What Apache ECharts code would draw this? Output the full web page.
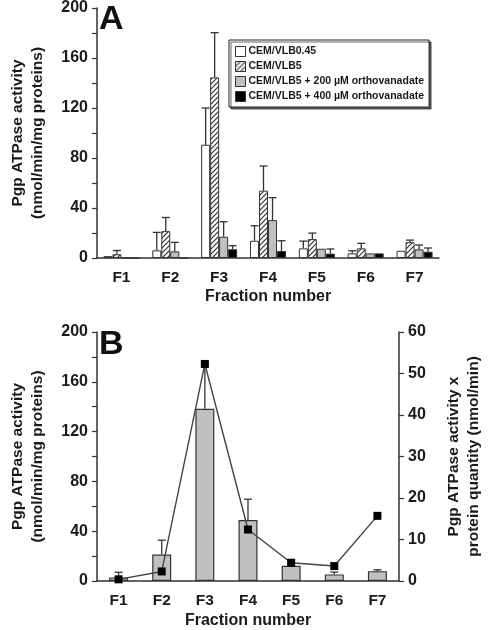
<!DOCTYPE html>
<html><head><meta charset="utf-8">
<script src="https://cdn.jsdelivr.net/npm/echarts@6/dist/echarts.min.js"></script>
<style>html,body{margin:0;padding:0;background:#fff}#c{width:492px;height:630px}</style>
</head><body><div id="c"></div>
<script>
// ---- data ----
const categories = ['F1','F2','F3','F4','F5','F6','F7'];
const seriesNames = ['CEM/VLB0.45','CEM/VLB5','CEM/VLB5 + 200 µM orthovanadate','CEM/VLB5 + 400 µM orthovanadate'];
const vlb045    = [1.5, 6.1, 90.6, 13.8, 7.7, 3.7, 5.8];
const vlb045Err = [null, 20.5, 120, 25.8, 13.5, 5.8, null];
const vlb5      = [3, 21.5, 144.5, 53.9, 15.1, 7.7, 12.7];
const vlb5Err   = [6, 32.4, 180.3, 73.6, 19.9, 11.7, 14.3];
const ov200     = [0, 5.3, 17, 30.3, 7.4, 3.7, 6.9];
const ov200Err  = [null, 12.5, 29, 48.3, null, null, 10.4];
const ov400     = [0, 0, 7, 5.6, 3.5, 3.7, 5];
const ov400Err  = [null, null, 9.8, 13.8, 7.2, null, 8];
const bActivity    = [2.9, 21.2, 138.3, 49, 12.3, 5.3, 7.9];
const bActivityErr = [7, 32.8, 175, 65.7, null, 7.2, 9];
const bTotal       = [0.4, 2.3, 52.3, 12.4, 4.4, 3.6, 15.7];
const leftTicks = {min: 0, max: 200, interval: 40};
const rightTicks = {min: 0, max: 60, interval: 10};

// ---- style ----
const FONT = '"Liberation Sans", Arial, sans-serif';
const TXT = '#1a1a1a';
const AX = '#333';
function hatch() {
  const c = document.createElement('canvas');
  c.width = 5; c.height = 5;
  const g = c.getContext('2d');
  g.fillStyle = '#fff'; g.fillRect(0,0,5,5);
  g.strokeStyle = '#333'; g.lineWidth = 1.2;
  g.beginPath();
  g.moveTo(-1,6); g.lineTo(6,-1);
  g.moveTo(-1,1); g.lineTo(1,-1);
  g.moveTo(4,6); g.lineTo(6,4);
  g.stroke();
  return {image: c, repeat: 'repeat'};
}
const fills = ['#ffffff', hatch(), '#c0c0c0', '#000000'];
const A_BAR_W = 9, B_BAR_W = 19;

function errSeries(vals, errs, offsetIdx, nBars, barW, xi, yi) {
  const data = [];
  errs.forEach((e, i) => { if (e != null) data.push([i, vals[i], e]); });
  return {
    type: 'custom', xAxisIndex: xi, yAxisIndex: yi, z: 5, silent: true,
    encode: {x: 0, y: [1, 2]},
    data: data,
    renderItem: function (params, api) {
      const b = api.coord([api.value(0), api.value(1)]);
      const t = api.coord([api.value(0), api.value(2)]);
      const x = b[0] + (offsetIdx - (nBars - 1) / 2) * barW;
      const st = {stroke: '#333', lineWidth: 1.3};
      return {type: 'group', children: [
        {type: 'line', shape: {x1: x, y1: b[1], x2: x, y2: t[1]}, style: st},
        {type: 'line', shape: {x1: x - 4, y1: t[1], x2: x + 4, y2: t[1]}, style: st}
      ]};
    }
  };
}

const axisLabelStyle = {color: TXT, fontFamily: FONT, fontWeight: 'bold', fontSize: 16};
function valueAxis(gridIndex, ticks, pos, name, gap, minor) {
  return {
    type: 'value', gridIndex: gridIndex, position: pos,
    min: ticks.min, max: ticks.max, interval: ticks.interval,
    name: name, nameLocation: 'middle', nameGap: gap, nameRotate: 90,
    nameTextStyle: {color: TXT, fontFamily: FONT, fontWeight: 'bold', fontSize: 15.5, lineHeight: 20},
    axisLine: {show: true, lineStyle: {color: AX, width: 1.5}},
    axisTick: {show: true, length: 5, lineStyle: {color: AX, width: 1.2}},
    minorTick: {show: minor, splitNumber: 2, length: 5, lineStyle: {color: AX, width: 1.2}},
    splitLine: {show: false},
    axisLabel: Object.assign({margin: 9}, axisLabelStyle)
  };
}
function catAxis(gridIndex, gap) {
  return {
    type: 'category', gridIndex: gridIndex, data: categories,
    name: 'Fraction number', nameLocation: 'middle', nameGap: gap,
    nameTextStyle: {color: TXT, fontFamily: FONT, fontWeight: 'bold', fontSize: 16},
    axisLine: {lineStyle: {color: AX, width: 1.5}},
    axisTick: {length: 4, lineStyle: {color: AX, width: 1.2}},
    axisLabel: Object.assign({margin: 12}, axisLabelStyle, {fontSize: 15.5})
  };
}

const aVals = [vlb045, vlb5, ov200, ov400];
const aErrs = [vlb045Err, vlb5Err, ov200Err, ov400Err];
const series = [];
aVals.forEach((v, k) => {
  series.push({
    type: 'bar', name: seriesNames[k], xAxisIndex: 0, yAxisIndex: 0,
    data: v, barWidth: A_BAR_W, barGap: '0%',
    itemStyle: {color: fills[k], borderColor: '#333', borderWidth: 1}
  });
});
aVals.forEach((v, k) => series.push(errSeries(v, aErrs[k], k, 4, A_BAR_W, 0, 0)));
series.push({
  type: 'bar', name: 'B activity', xAxisIndex: 1, yAxisIndex: 1,
  data: bActivity, barWidth: B_BAR_W,
  itemStyle: {color: '#c0c0c0', borderColor: '#333', borderWidth: 1.2}
});
series.push(errSeries(bActivity, bActivityErr, 0, 1, B_BAR_W, 1, 1));
series.push({
  type: 'line', name: 'B total', xAxisIndex: 1, yAxisIndex: 2, z: 10,
  data: bTotal, symbol: 'rect', symbolSize: 8,
  lineStyle: {color: '#444', width: 1.4},
  itemStyle: {color: '#000'}
});

const chart = echarts.init(document.getElementById('c'), null, {renderer: 'canvas'});
chart.setOption({
  animation: false,
  backgroundColor: '#fff',
  title: [
    {text: 'A', left: 99, top: 3, padding: 0, textStyle: {fontFamily: FONT, fontWeight: 'bold', fontSize: 34, color: '#111'}},
    {text: 'B', left: 99, top: 328, padding: 0, textStyle: {fontFamily: FONT, fontWeight: 'bold', fontSize: 34, color: '#111'}}
  ],
  legend: {
    data: seriesNames, left: 229, top: 40, orient: 'vertical',
    itemWidth: 10, itemHeight: 10, itemGap: 4, padding: [6, 5, 5, 6],
    borderColor: '#222', borderWidth: 1,
    shadowColor: 'rgba(0,0,0,0.6)', shadowOffsetX: 2, shadowOffsetY: 2, shadowBlur: 0,
    backgroundColor: '#fff',
    icon: 'rect',
    itemStyle: {borderColor: '#333', borderWidth: 1},
    textStyle: {fontFamily: FONT, fontWeight: 'bold', fontSize: 10.5, color: TXT, padding: [0,0,0,-2]}
  },
  grid: [
    {left: 87, right: 53, top: 7, height: 251},
    {left: 87, right: 79, top: 332, height: 252}
  ],
  xAxis: [catAxis(0, 31), catAxis(1, 32)],
  yAxis: [
    valueAxis(0, leftTicks, 'left', 'Pgp ATPase activity\n(nmol/min/mg proteins)', 49, true),
    valueAxis(1, leftTicks, 'left', 'Pgp ATPase activity\n(nmol/min/mg proteins)', 49, true),
    valueAxis(1, rightTicks, 'right', 'Pgp ATPase activity x\nprotein quantity (nmol/min)', 45, false)
  ],
  series: series
});
</script></body></html>
